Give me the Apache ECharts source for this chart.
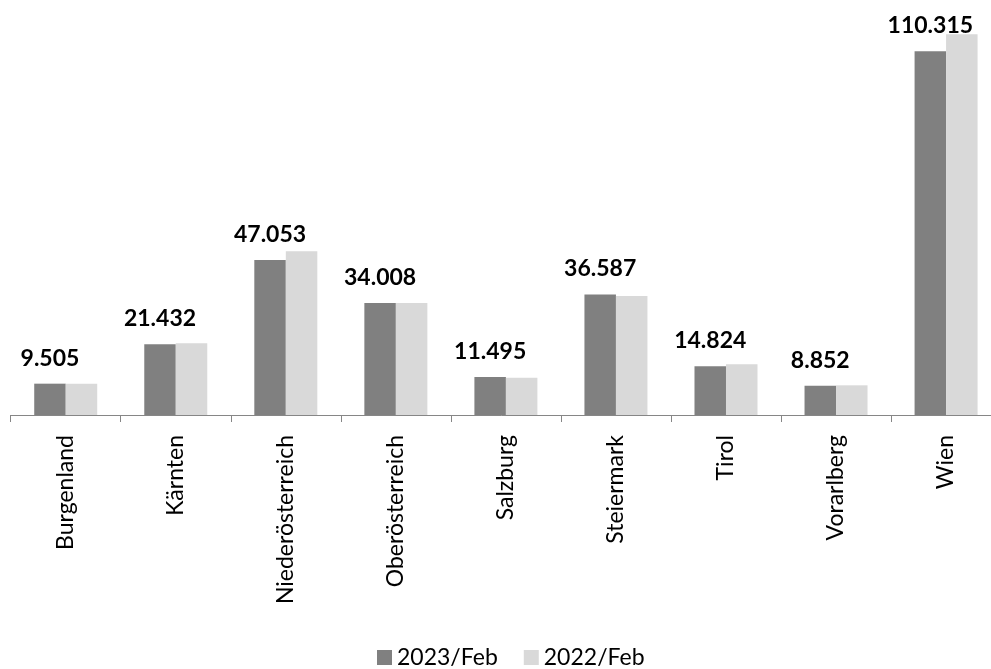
<!DOCTYPE html>
<html><head><meta charset="utf-8">
<script src="https://cdn.jsdelivr.net/npm/echarts@6/dist/echarts.min.js"></script>
<style>html,body{margin:0;padding:0;background:#fff}#c{width:991px;height:669px}</style>
</head><body><div id="c"></div>
<script>
var categories = ['Burgenland','Kärnten','Niederösterreich','Oberösterreich','Salzburg','Steiermark','Tirol','Vorarlberg','Wien'];
var seriesNames = ['2023/Feb','2022/Feb'];
var values2023 = [9.505, 21.432, 47.053, 34.008, 11.495, 36.587, 14.824, 8.852, 110.315];
var values2022 = [9.5, 21.8, 49.7, 34.0, 11.3, 36.1, 15.4, 9.0, 115.5];

var chart = echarts.init(document.getElementById('c'), null, {renderer:'canvas'});
var fontFam = 'Lato, "Open Sans", sans-serif';
chart.setOption({
  animation: false,
  backgroundColor: '#fff',
  grid: {left: 10.7, top: 19.4, width: 990.4, height: 395.6, containLabel: false, outerBoundsMode: 'none'},
  legend: {
    top: 641, left: 372,
    itemWidth: 15, itemHeight: 15, itemGap: 26,
    icon: 'rect',
    textStyle: {fontFamily: fontFam, fontSize: 23, color: '#000'},
    data: seriesNames
  },
  xAxis: {
    type: 'category', data: categories,
    axisLine: {lineStyle: {color: '#868686', width: 1}},
    axisTick: {show: true, length: 7, lineStyle: {color: '#868686'}, alignWithLabel: false},
    axisLabel: {rotate: 90, margin: 20, fontFamily: fontFam, fontSize: 23, color: '#000', interval: 0}
  },
  yAxis: {
    type: 'value', min: 0, max: 120,
    axisLine: {show: false}, axisTick: {show: false}, axisLabel: {show: false}, splitLine: {show: false}
  },
  series: [
    {name: seriesNames[0], type: 'bar', data: values2023, barWidth: 31.5, barGap: '0%',
     itemStyle: {color: '#808080'},
     label: {show: true, position: 'top', distance: 14, fontFamily: fontFam, fontWeight: 'bold', fontSize: 23, color: '#000',
       formatter: function(p){ return p.value.toFixed(3); }}},
    {name: seriesNames[1], type: 'bar', data: values2022, barWidth: 31.5, barGap: '0%',
     itemStyle: {color: '#d9d9d9'}}
  ]
});
</script></body></html>
